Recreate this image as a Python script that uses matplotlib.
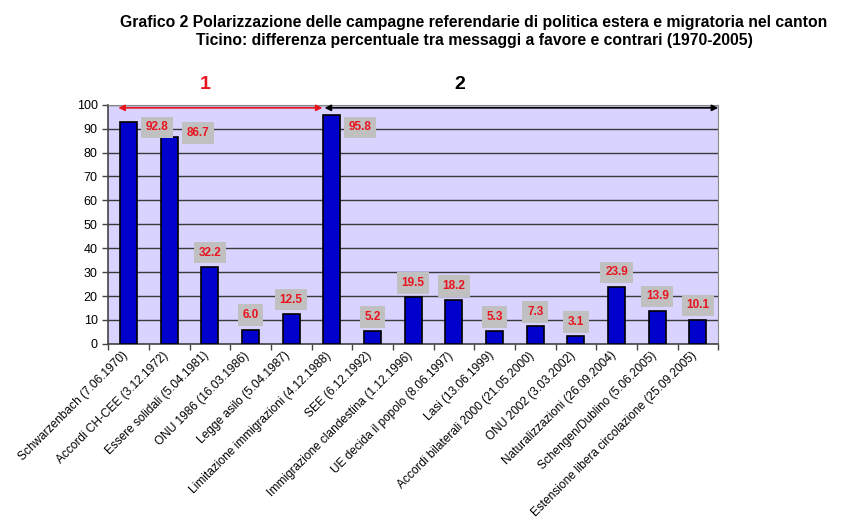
import matplotlib.pyplot as plt
from matplotlib.ticker import FixedLocator, MultipleLocator

plt.rcParams['font.family'] = ['Liberation Sans', 'DejaVu Sans']

categorie = ['Schwarzenbach (7.06.1970)', 'Accordi CH-CEE (3.12.1972)',
             'Essere solidali (5.04.1981)', 'ONU 1986 (16.03.1986)',
             'Legge asilo (5.04.1987)', 'Limitazione immigrazioni (4.12.1988)',
             'SEE (6.12.1992)', 'Immigrazione clandestina (1.12.1996)',
             'UE decida il popolo (8.06.1997)', 'Lasi (13.06.1999)',
             'Accordi bilaterali 2000 (21.05.2000)', 'ONU 2002 (3.03.2002)',
             'Naturalizzazioni (26.09.2004)', 'Schengen/Dublino (5.06.2005)',
             'Estensione libera circolazione (25.09.2005)']
valori = [92.8, 86.7, 32.2, 6.0, 12.5, 95.8, 5.2, 19.5, 18.2, 5.3, 7.3, 3.1,
          23.9, 13.9, 10.1]
# il primo periodo comprende le prime 5 votazioni
n_periodo1 = 5

fig = plt.figure(figsize=(8.45, 5.29), dpi=100)
ax = fig.add_axes([0.128, 0.350, 0.722, 0.452])
n = len(valori)
x = list(range(n))

ax.set_facecolor('#d8d4ff')
ax.bar(x, valori, width=0.42, color='#0000cc', edgecolor='black', linewidth=1.2, zorder=3)
ax.set_xlim(-0.5, n - 0.5)
ax.set_ylim(0, 100)
ax.yaxis.set_major_locator(MultipleLocator(10))
ax.grid(axis='y', color='#3a3a3a', linewidth=1, zorder=1)

# etichette ruotate leggermente spostate a sinistra del centro della barra
ax.set_xticks([i - 0.17 for i in x])
ax.set_xticklabels(categorie, rotation=45, ha='right', rotation_mode='anchor', fontsize=8.6)
ax.tick_params(axis='x', which='major', length=0, pad=4)
ax.xaxis.set_minor_locator(FixedLocator([i - 0.5 for i in range(n + 1)]))
ax.tick_params(axis='x', which='minor', length=4, width=1, color='#444444')
ax.tick_params(axis='y', labelsize=9, length=4, width=1, color='#444444')
for s in ['top', 'right']:
    ax.spines[s].set_color('#888888')
for s in ['left', 'bottom']:
    ax.spines[s].set_color('#444444')
    ax.spines[s].set_linewidth(1.2)

# etichette con i valori: quelle delle barre alte vanno a destra della barra
for i, v in enumerate(valori):
    if v > 80:
        pos = (i + 0.7, min(v, 89) + 1.5)
    else:
        pos = (i, v + 6)
    ax.text(pos[0], pos[1], f'{v:.1f}', ha='center', va='center', fontsize=8.5,
            fontweight='bold', color='#e8141e', zorder=5,
            bbox=dict(boxstyle='square,pad=0.4', fc='#c0c0c0', ec='none'))

# frecce dei due periodi
limite = n_periodo1 - 0.23
ax.annotate('', xy=(-0.25, 98.7), xytext=(limite, 98.7),
            arrowprops=dict(arrowstyle='<|-|>', color='#e8141e', lw=1.2,
                            mutation_scale=9, shrinkA=0, shrinkB=0), zorder=6,
            annotation_clip=False)
ax.annotate('', xy=(limite + 0.05, 98.7), xytext=(n - 0.5, 98.7),
            arrowprops=dict(arrowstyle='<|-|>', color='black', lw=1.2,
                            mutation_scale=9, shrinkA=0, shrinkB=0), zorder=6,
            annotation_clip=False)
ax.text(1.88, 108.4, '1', color='#e8141e', fontsize=14, fontweight='bold',
        ha='center', va='center', clip_on=False)
ax.text(8.15, 108.4, '2', color='black', fontsize=14, fontweight='bold',
        ha='center', va='center', clip_on=False)

fig.text(0.561, 0.972, 'Grafico 2 Polarizzazione delle campagne referendarie di politica estera e migratoria nel canton\n'
         'Ticino: differenza percentuale tra messaggi a favore e contrari (1970-2005)',
         ha='center', va='top', fontsize=11.3, fontweight='bold', linespacing=1.3)

fig.savefig('out.png', dpi=100)
